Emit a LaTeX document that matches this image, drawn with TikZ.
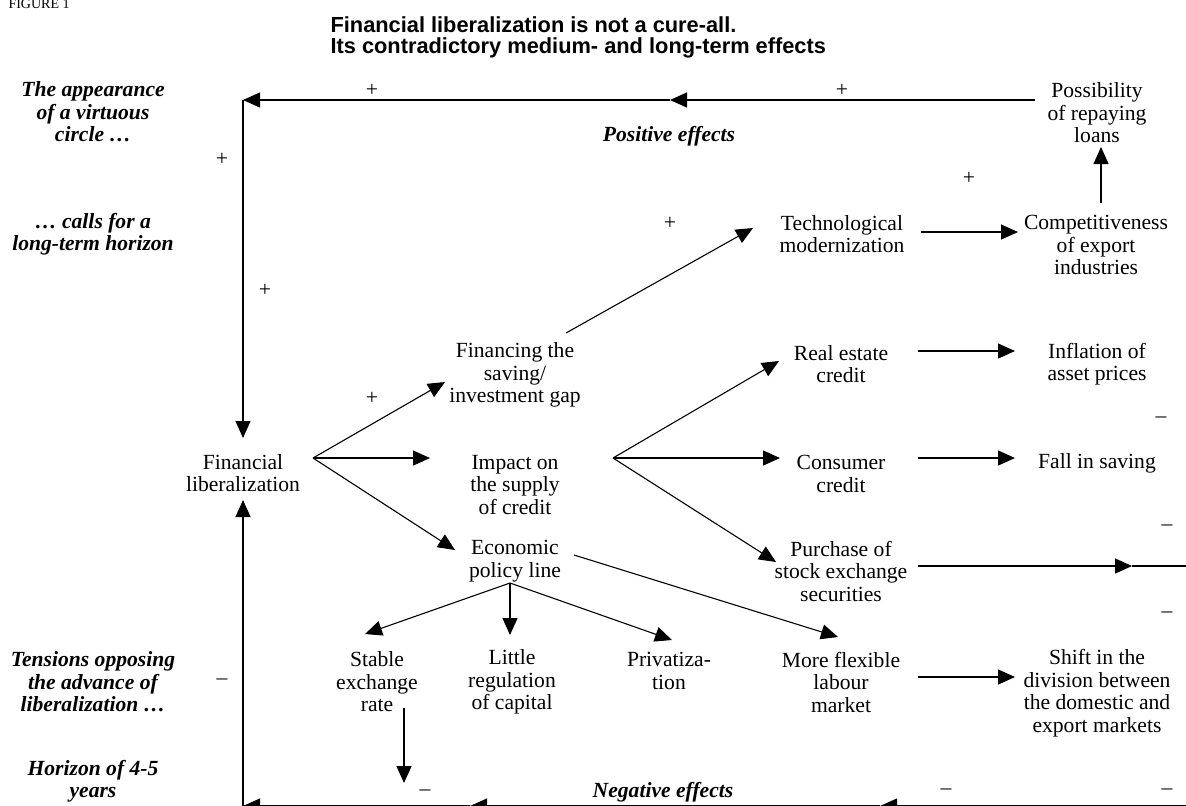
\documentclass[tikz,border=0pt]{standalone}
\usepackage{fontspec}
\setmainfont{Liberation Serif}
\newfontfamily\headfont{Liberation Sans}
\usetikzlibrary{arrows.meta}

\begin{document}
\begin{tikzpicture}[x=0.5pt, y=-0.5pt, line width=0.55pt, font=\fontsize{10.8}{11.25}\selectfont]
        \tikzstyle{item}=[align=center, inner sep=0pt];
        \tikzstyle{note}=[align=center, inner sep=0pt, font=\fontsize{10.8}{11.25}\selectfont\bfseries\itshape];
        \tikzstyle{sign}=[inner sep=0pt];
        \tikzstyle{arr}=[-{Triangle[length=8.5pt,width=7.5pt]}];

        \useasboundingbox (0,0) rectangle (1186,805);
        \clip (0,0) rectangle (1186,805);

        \node[anchor=base west, inner sep=0pt, font=\fontsize{7}{8}\selectfont] (fig) at (8,8) {FIGURE 1};
        \node[anchor=north west, align=left, inner sep=0pt, font={\headfont\bfseries\fontsize{10.9}{10.5}\selectfont}] (title) at (330,16) {Financial liberalization is not a cure-all.\\Its contradictory medium- and long-term effects};

        \node[note] (appear) at (93,112) {The appearance\\of a virtuous\\circle \dots};
        \node[note] (calls) at (93,234) {\dots\ calls for a\\long-term horizon};
        \node[note] (tension) at (93,682) {Tensions opposing\\the advance of\\liberalization \dots};
        \node[note] (horizon) at (93,781) {Horizon of 4-5\\years};
        \node[note] (pos) at (669,136) {Positive effects};
        \node[note] (neg) at (663,792) {Negative effects};

        \node[item] (finlib) at (243,473) {Financial\\liberalization};
        \node[item] (fingap) at (515,375) {Financing the\\saving/\\investment gap};
        \node[item] (impact) at (515,485) {Impact on\\the supply\\of credit};
        \node[item] (econ) at (515,561) {Economic\\policy line};
        \node[item] (tech) at (842,234) {Technological\\modernization};
        \node[item] (compet) at (1096,245) {Competitiveness\\of export\\industries};
        \node[item] (repay) at (1097,113) {Possibility\\of repaying\\loans};
        \node[item] (realest) at (841,364) {Real estate\\credit};
        \node[item] (inflat) at (1097,364) {Inflation of\\asset prices};
        \node[item] (consum) at (841,474) {Consumer\\credit};
        \node[item] (fallsav) at (1097,463) {Fall in saving};
        \node[item] (purchase) at (841,571) {Purchase of\\stock exchange\\securities};
        \node[item] (stable) at (377,682) {Stable\\exchange\\rate};
        \node[item] (littlereg) at (512,682) {Little\\regulation\\of capital};
        \node[item] (privat) at (669,671) {Privatiza-\\tion};
        \node[item] (flexlab) at (841,682) {More flexible\\labour\\market};
        \node[item] (shiftmk) at (1097,693) {Shift in the\\division between\\the domestic and\\export markets};

        \node[sign] (s1) at (372,90) {+};
        \node[sign] (s2) at (842,90) {+};
        \node[sign] (s3) at (222,159) {+};
        \node[sign] (s4) at (265,290) {+};
        \node[sign] (s5) at (670,223) {+};
        \node[sign] (s6) at (969,178) {+};
        \node[sign] (s7) at (372,398) {+};
        \node[sign] (m1) at (222,682) {--};
        \node[sign] (m2) at (1161,420) {--};
        \node[sign] (m3) at (1167,528) {--};
        \node[sign] (m4) at (1167,615) {--};
        \node[sign] (m5) at (1167,792) {--};
        \node[sign] (m6) at (946,792) {--};
        \node[sign] (m7) at (425,793) {--};

        \coordinate (tmid) at (670,100);
        \coordinate (tcorner) at (243,100);
        \coordinate (f1) at (313,458);
        \coordinate (f2) at (613,458);
        \coordinate (f3) at (510,583);
        \coordinate (pmid) at (1132,566);
        \coordinate (pend) at (1190,566);
        \coordinate (sdown) at (404,783);
        \coordinate (bstart) at (1190,806);
        \coordinate (bmid2) at (880,806);
        \coordinate (bmid1) at (470,806);
        \coordinate (bcorner) at (243,806);

        \draw[arr] ([shift={(-62,-13)}]repay.center) -- (tmid);
        \draw[arr] (tmid) -- (tcorner);
        \draw[arr] (tcorner) -- ([shift={(0,-35)}]finlib.center);
        \draw[arr] ([shift={(5,-42)}]compet.center) -- ([shift={(4,34)}]repay.center);
        \draw[arr] ([shift={(79,-2)}]tech.center) -- ([shift={(-78,-13)}]compet.center);
        \draw[arr] ([shift={(51,-42)}]fingap.center) -- ([shift={(-89,-6)}]tech.center);

        \draw[arr] (f1) -- ([shift={(-70,7)}]fingap.center);
        \draw[arr] (f1) -- ([shift={(-85,-27)}]impact.center);
        \draw[arr] (f1) -- ([shift={(-60,-11)}]econ.center);

        \draw[arr] (f2) -- ([shift={(-62,-3)}]realest.center);
        \draw[arr] (f2) -- ([shift={(-61,-16)}]consum.center);
        \draw[arr] (f2) -- ([shift={(-65,-9)}]purchase.center);

        \draw[arr] ([shift={(77,-13)}]realest.center) -- ([shift={(-82,-13)}]inflat.center);
        \draw[arr] ([shift={(77,-16)}]consum.center) -- ([shift={(-82,-5)}]fallsav.center);
        \draw[arr] ([shift={(77,-5)}]purchase.center) -- (pmid);
        \draw (pmid) -- (pend);

        \draw[arr] ([shift={(59,-6)}]econ.center) -- ([shift={(-3,-45)}]flexlab.center);
        \draw[arr] (f3) -- ([shift={(-12,-48)}]stable.center);
        \draw[arr] (f3) -- ([shift={(-2,-47)}]littlereg.center);
        \draw[arr] (f3) -- ([shift={(3,-31)}]privat.center);
        \draw[arr] ([shift={(77,-5)}]flexlab.center) -- ([shift={(-82,-16)}]shiftmk.center);
        \draw[arr] ([shift={(27,26)}]stable.center) -- (sdown);

        \draw[arr] (bstart) -- (bmid2);
        \draw[arr] (bmid2) -- (bmid1);
        \draw[arr] (bmid1) -- (bcorner);
        \draw[arr] (bcorner) -- ([shift={(0,27)}]finlib.center);
    \end{tikzpicture}
\end{document}
